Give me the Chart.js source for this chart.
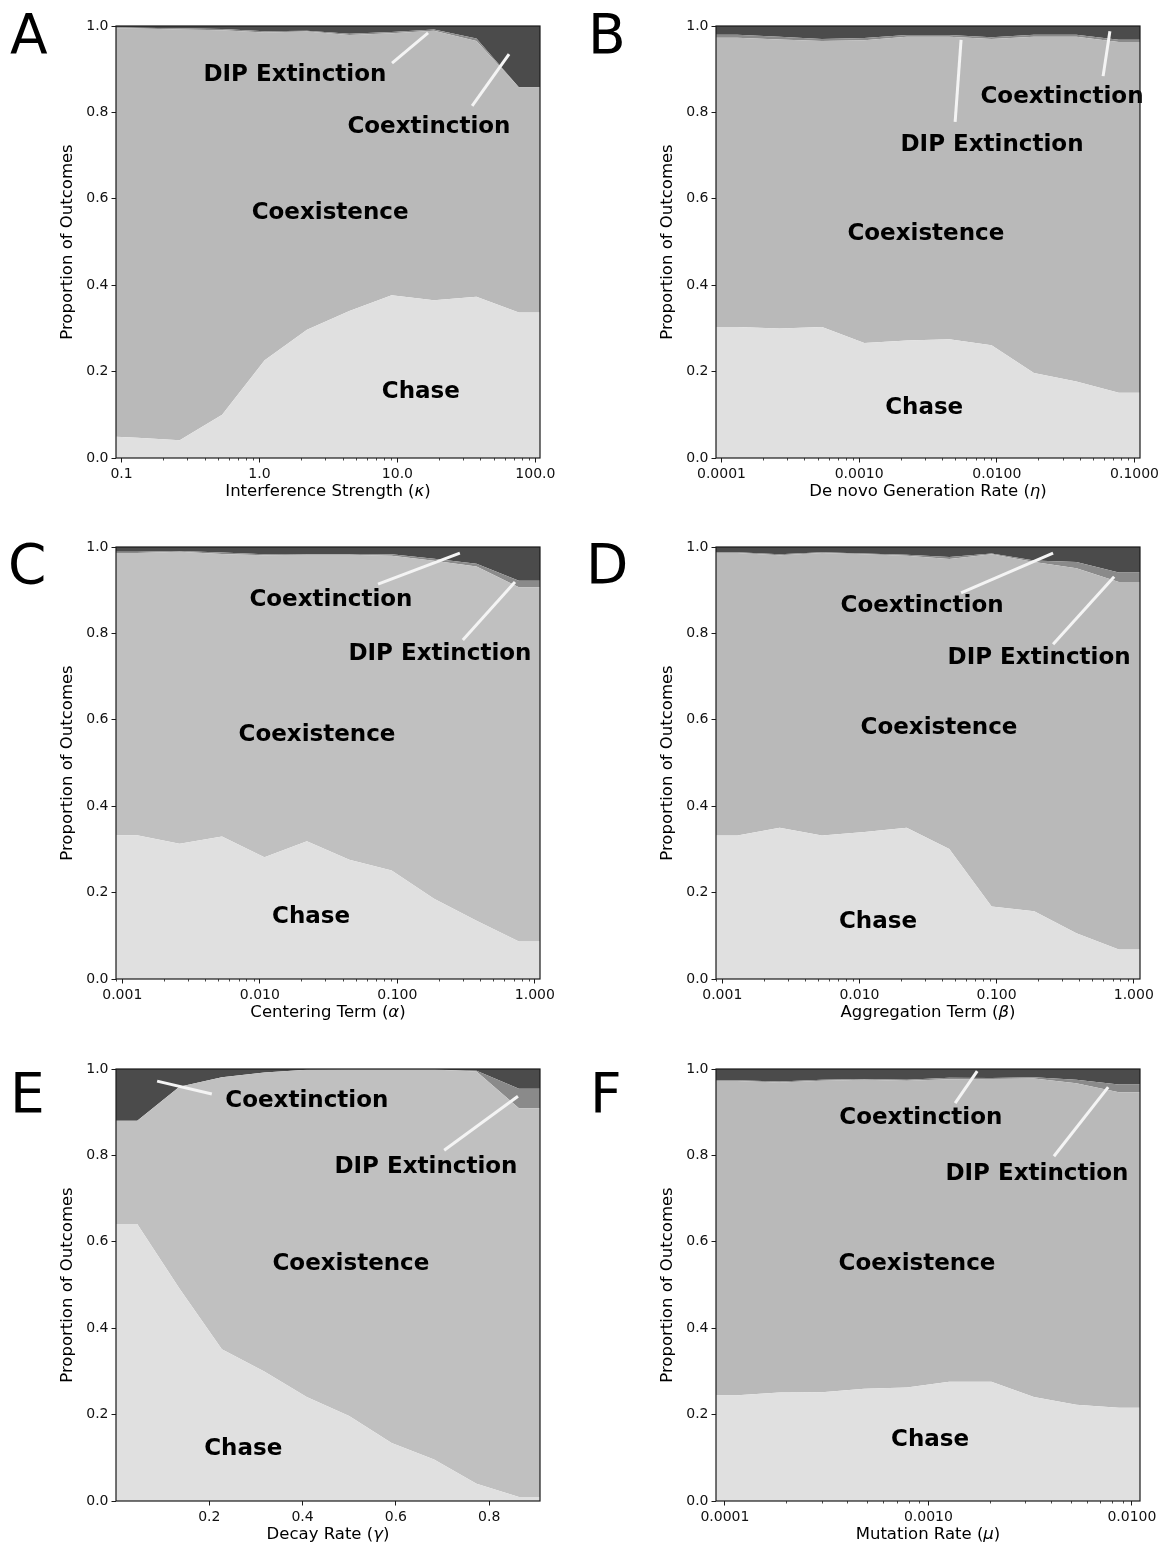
<!DOCTYPE html>
<html>
<head>
<meta charset="utf-8">
<script src="https://cdn.jsdelivr.net/npm/chart.js@4.4.1/dist/chart.umd.min.js"></script>
<style>
  html, body { margin: 0; padding: 0; background: #fff; }
  #fig { position: relative; width: 1166px; height: 1549px; overflow: hidden; }
  #fig canvas { position: absolute; }
</style>
</head>
<body>
<div id="fig"></div>
<script>
// ---- data (proportions of outcomes per parameter value) ----
const seriesNames = ['Chase', 'Coexistence', 'DIP Extinction', 'Coextinction'];

// A: interference strength (kappa)
const xA = [0.0912, 0.130, 0.264, 0.536, 1.09, 2.21, 4.48, 9.08, 18.4, 37.4, 75.9, 108];
const chaseA = [0.049, 0.047, 0.041, 0.100, 0.226, 0.297, 0.340, 0.377, 0.365, 0.373, 0.337, 0.337];
const coexistenceA = [0.946, 0.947, 0.951, 0.890, 0.759, 0.690, 0.639, 0.606, 0.624, 0.592, 0.521, 0.521];
const dipExtinctionA = [0.002, 0.002, 0.003, 0.003, 0.003, 0.002, 0.003, 0.003, 0.003, 0.006, 0, 0];
const coextinctionA = [0.003, 0.004, 0.005, 0.007, 0.012, 0.011, 0.018, 0.014, 0.008, 0.029, 0.142, 0.142];

// B: de novo generation rate (eta)
const xB = [0.0000912, 0.00013, 0.000264, 0.000537, 0.00109, 0.00222, 0.00451, 0.00916, 0.0186, 0.0378, 0.0769, 0.1096];
const chaseB = [0.303, 0.303, 0.300, 0.303, 0.266, 0.272, 0.275, 0.261, 0.197, 0.177, 0.151, 0.151];
const coexistenceB = [0.670, 0.670, 0.669, 0.662, 0.701, 0.703, 0.700, 0.709, 0.778, 0.798, 0.812, 0.812];
const dipExtinctionB = [0.007, 0.007, 0.006, 0.005, 0.005, 0.004, 0.004, 0.004, 0.005, 0.005, 0.005, 0.005];
const coextinctionB = [0.020, 0.020, 0.025, 0.030, 0.028, 0.021, 0.021, 0.026, 0.020, 0.020, 0.032, 0.032];

// C: centering term (alpha)
const xC = [0.0009, 0.00128, 0.00261, 0.00531, 0.0108, 0.022, 0.0448, 0.091, 0.185, 0.377, 0.766, 1.09];
const chaseC = [0.333, 0.333, 0.313, 0.330, 0.282, 0.319, 0.276, 0.251, 0.186, 0.135, 0.087, 0.087];
const coexistenceC = [0.653, 0.653, 0.676, 0.654, 0.699, 0.663, 0.706, 0.729, 0.782, 0.820, 0.820, 0.820];
const dipExtinctionC = [0.003, 0.003, 0.002, 0.003, 0.002, 0.002, 0.002, 0.003, 0.005, 0.006, 0.015, 0.015];
const coextinctionC = [0.011, 0.011, 0.009, 0.013, 0.017, 0.016, 0.016, 0.017, 0.027, 0.039, 0.078, 0.078];

// D: aggregation term (beta)
const xD = [0.0009, 0.00129, 0.00262, 0.00533, 0.0109, 0.0221, 0.0452, 0.092, 0.188, 0.382, 0.778, 1.11];
const chaseD = [0.332, 0.332, 0.350, 0.332, 0.340, 0.350, 0.301, 0.168, 0.157, 0.106, 0.068, 0.068];
const coexistenceD = [0.654, 0.654, 0.631, 0.654, 0.643, 0.630, 0.671, 0.815, 0.808, 0.845, 0.851, 0.851];
const dipExtinctionD = [0.002, 0.002, 0.002, 0.002, 0.002, 0.002, 0.005, 0.002, 0.004, 0.014, 0.022, 0.022];
const coextinctionD = [0.012, 0.012, 0.017, 0.012, 0.015, 0.018, 0.023, 0.015, 0.031, 0.035, 0.059, 0.059];

// E: decay rate (gamma)
const xE = [0, 0.0455, 0.136, 0.227, 0.318, 0.409, 0.5, 0.591, 0.682, 0.773, 0.864, 0.909];
const chaseE = [0.641, 0.641, 0.492, 0.351, 0.300, 0.241, 0.197, 0.134, 0.096, 0.040, 0.009, 0.009];
const coexistenceE = [0.239, 0.239, 0.467, 0.630, 0.692, 0.757, 0.802, 0.865, 0.903, 0.954, 0.900, 0.900];
const dipExtinctionE = [0, 0, 0, 0, 0, 0, 0, 0, 0, 0.002, 0.045, 0.045];
const coextinctionE = [0.120, 0.120, 0.041, 0.019, 0.008, 0.002, 0.001, 0.001, 0.001, 0.004, 0.046, 0.046];

// F: mutation rate (mu)
const xF = [0.0000904, 0.000115, 0.000185, 0.0003, 0.000484, 0.000783, 0.001265, 0.00204, 0.0033, 0.00533, 0.00863, 0.01096];
const chaseF = [0.245, 0.245, 0.251, 0.252, 0.260, 0.263, 0.276, 0.276, 0.241, 0.223, 0.216, 0.216];
const coexistenceF = [0.727, 0.727, 0.718, 0.721, 0.715, 0.710, 0.700, 0.701, 0.737, 0.744, 0.730, 0.730];
const dipExtinctionF = [0.002, 0.002, 0.002, 0.002, 0.002, 0.002, 0.004, 0.002, 0.003, 0.008, 0.018, 0.018];
const coextinctionF = [0.026, 0.026, 0.029, 0.025, 0.023, 0.025, 0.020, 0.021, 0.019, 0.025, 0.036, 0.036];

// tick values and labels
const yTicks = [0, 0.2, 0.4, 0.6, 0.8, 1.0];
const yTickLabels = ['0.0', '0.2', '0.4', '0.6', '0.8', '1.0'];
const xTicksA = [0.1, 1, 10, 100];
const xTickLabelsA = ['0.1', '1.0', '10.0', '100.0'];
const xTicksB = [0.0001, 0.001, 0.01, 0.1];
const xTickLabelsB = ['0.0001', '0.0010', '0.0100', '0.1000'];
const xTicksCD = [0.001, 0.01, 0.1, 1];
const xTickLabelsCD = ['0.001', '0.010', '0.100', '1.000'];
const xTicksE = [0.2, 0.4, 0.6, 0.8];
const xTickLabelsE = ['0.2', '0.4', '0.6', '0.8'];
const xTicksF = [0.0001, 0.001, 0.01];
const xTickLabelsF = ['0.0001', '0.0010', '0.0100'];

const yTitle = 'Proportion of Outcomes';

// ---- layout (page px) ----
const PLOT_W = 424, PLOT_H = 432, CANVAS_W = 583, CANVAS_H = 516;
const colChase = '#e0e0e0', colDip = '#8a8a8a', colCoext = '#4b4b4b';
const LINE_COL = '#f4f4f4';

// annotations in axes fractions: text centre [fx, fy], line [fx0, fy0, fx1, fy1]
const panels = [
  { letter: 'A', cx: 0, cy: 0, plotLeft: 116, plotTop: 26, letterX: 10, letterY: 53, xType: 'logarithmic',
    x: xA, vals: [chaseA, coexistenceA, dipExtinctionA, coextinctionA], coexCol: '#b9b9b9',
    ticks: xTicksA, tickLabels: xTickLabelsA, xTitle: ['Interference Strength (', 'κ', ')'],
    labels: [['DIP Extinction', 0.422, 0.887], ['Coextinction', 0.738, 0.766], ['Coexistence', 0.505, 0.567], ['Chase', 0.719, 0.153]],
    lines: [[0.651, 0.914, 0.736, 0.984], [0.840, 0.815, 0.927, 0.935]] },
  { letter: 'B', cx: 583, cy: 0, plotLeft: 716, plotTop: 26, letterX: 588, letterY: 53, xType: 'logarithmic',
    x: xB, vals: [chaseB, coexistenceB, dipExtinctionB, coextinctionB], coexCol: '#b9b9b9',
    ticks: xTicksB, tickLabels: xTickLabelsB, xTitle: ['De novo Generation Rate (', 'η', ')'],
    labels: [['Coextinction', 0.816, 0.836], ['DIP Extinction', 0.651, 0.725], ['Coexistence', 0.495, 0.519], ['Chase', 0.491, 0.116]],
    lines: [[0.913, 0.884, 0.929, 0.988], [0.564, 0.778, 0.578, 0.968]] },
  { letter: 'C', cx: 0, cy: 521, plotLeft: 116, plotTop: 547, letterX: 8, letterY: 583, xType: 'logarithmic',
    x: xC, vals: [chaseC, coexistenceC, dipExtinctionC, coextinctionC], coexCol: '#c0c0c0',
    ticks: xTicksCD, tickLabels: xTickLabelsCD, xTitle: ['Centering Term (', 'α', ')'],
    labels: [['Coextinction', 0.507, 0.877], ['DIP Extinction', 0.764, 0.752], ['Coexistence', 0.474, 0.565], ['Chase', 0.46, 0.144]],
    lines: [[0.618, 0.914, 0.811, 0.986], [0.818, 0.785, 0.941, 0.919]] },
  { letter: 'D', cx: 583, cy: 521, plotLeft: 716, plotTop: 547, letterX: 586, letterY: 583, xType: 'logarithmic',
    x: xD, vals: [chaseD, coexistenceD, dipExtinctionD, coextinctionD], coexCol: '#b9b9b9',
    ticks: xTicksCD, tickLabels: xTickLabelsCD, xTitle: ['Aggregation Term (', 'β', ')'],
    labels: [['Coextinction', 0.486, 0.863], ['DIP Extinction', 0.762, 0.743], ['Coexistence', 0.526, 0.581], ['Chase', 0.382, 0.132]],
    lines: [[0.578, 0.894, 0.795, 0.986], [0.795, 0.775, 0.939, 0.931]] },
  { letter: 'E', cx: 0, cy: 1043, plotLeft: 116, plotTop: 1069, letterX: 10, letterY: 1112, xType: 'linear',
    x: xE, vals: [chaseE, coexistenceE, dipExtinctionE, coextinctionE], coexCol: '#c0c0c0',
    ticks: xTicksE, tickLabels: xTickLabelsE, xTitle: ['Decay Rate (', 'γ', ')'],
    labels: [['Coextinction', 0.450, 0.926], ['DIP Extinction', 0.731, 0.773], ['Coexistence', 0.554, 0.548], ['Chase', 0.30, 0.121]],
    lines: [[0.226, 0.942, 0.097, 0.972], [0.774, 0.812, 0.948, 0.937]] },
  { letter: 'F', cx: 583, cy: 1043, plotLeft: 716, plotTop: 1069, letterX: 590, letterY: 1112, xType: 'logarithmic',
    x: xF, vals: [chaseF, coexistenceF, dipExtinctionF, coextinctionF], coexCol: '#b9b9b9',
    ticks: xTicksF, tickLabels: xTickLabelsF, xTitle: ['Mutation Rate (', 'μ', ')'],
    labels: [['Coextinction', 0.483, 0.886], ['DIP Extinction', 0.757, 0.757], ['Coexistence', 0.474, 0.548], ['Chase', 0.505, 0.142]],
    lines: [[0.564, 0.921, 0.616, 0.995], [0.797, 0.798, 0.925, 0.958]] }
];

const FONT = '"DejaVu Sans", sans-serif';

// draws spines, minor log ticks, titles, panel letter and the text annotations
function makeDecor(p) {
  return {
    id: 'decor' + p.letter,
    afterDraw(chart) {
      const ctx = chart.ctx;
      const a = chart.chartArea;
      const xs = chart.scales.x;
      const fx = f => a.left + f * (a.right - a.left);
      const fy = f => a.bottom - f * (a.bottom - a.top);
      ctx.save();

      // annotation lines
      ctx.strokeStyle = LINE_COL;
      ctx.lineWidth = 3;
      ctx.lineCap = 'butt';
      p.lines.forEach(l => {
        ctx.beginPath();
        ctx.moveTo(fx(l[0]), fy(l[1]));
        ctx.lineTo(fx(l[2]), fy(l[3]));
        ctx.stroke();
      });

      // outcome labels
      ctx.fillStyle = '#000';
      ctx.font = 'bold 23px ' + FONT;
      ctx.textAlign = 'center';
      ctx.textBaseline = 'middle';
      p.labels.forEach(t => ctx.fillText(t[0], fx(t[1]), fy(t[2])));

      // spines
      ctx.strokeStyle = '#1a1a1a';
      ctx.lineWidth = 1.2;
      ctx.strokeRect(a.left, a.top, a.right - a.left, a.bottom - a.top);

      // minor ticks on log axes
      if (p.xType === 'logarithmic') {
        ctx.lineWidth = 0.8;
        const lo = Math.floor(Math.log10(xs.min)), hi = Math.ceil(Math.log10(xs.max));
        for (let d = lo; d <= hi; d++) {
          for (let m = 2; m <= 9; m++) {
            const v = m * Math.pow(10, d);
            if (v <= xs.min || v >= xs.max) continue;
            const px = Math.round(xs.getPixelForValue(v)) + 0.5;
            ctx.beginPath();
            ctx.moveTo(px, a.bottom);
            ctx.lineTo(px, a.bottom + 2.5);
            ctx.stroke();
          }
        }
      }

      // y title
      ctx.font = '16.5px ' + FONT;
      ctx.save();
      ctx.translate(a.left - 48, (a.top + a.bottom) / 2);
      ctx.rotate(-Math.PI / 2);
      ctx.fillText(yTitle, 0, 0);
      ctx.restore();

      // x title with italic greek symbol
      const [pre, sym, post] = p.xTitle;
      const fNorm = '16.5px ' + FONT, fIt = 'italic 16.5px ' + FONT;
      ctx.font = fNorm;
      const w1 = ctx.measureText(pre).width, w3 = ctx.measureText(post).width;
      ctx.font = fIt;
      const w2 = ctx.measureText(sym).width;
      let sx = (a.left + a.right) / 2 - (w1 + w2 + w3) / 2;
      const ty = a.bottom + 34;
      ctx.textAlign = 'left';
      ctx.font = fNorm; ctx.fillText(pre, sx, ty); sx += w1;
      ctx.font = fIt; ctx.fillText(sym, sx, ty); sx += w2;
      ctx.font = fNorm; ctx.fillText(post, sx, ty);

      // panel letter
      ctx.font = '55px ' + FONT;
      ctx.textBaseline = 'alphabetic';
      ctx.fillText(p.letter, p.letterX - p.cx, p.letterY - p.cy);
      ctx.restore();
    }
  };
}

const fig = document.getElementById('fig');
panels.forEach(p => {
  const canvas = document.createElement('canvas');
  canvas.width = CANVAS_W;
  canvas.height = CANVAS_H;
  canvas.style.left = p.cx + 'px';
  canvas.style.top = p.cy + 'px';
  canvas.style.width = CANVAS_W + 'px';
  canvas.style.height = CANVAS_H + 'px';
  fig.appendChild(canvas);

  const yAxisW = p.plotLeft - p.cx;
  const padTop = p.plotTop - p.cy;
  const padRight = CANVAS_W - yAxisW - PLOT_W;
  const xAxisH = 40;
  const padBottom = CANVAS_H - padTop - PLOT_H - xAxisH;
  const colors = [colChase, p.coexCol, colDip, colCoext];

  const datasets = p.vals.map((v, i) => ({
    label: seriesNames[i],
    data: p.x.map((xv, j) => ({ x: xv, y: v[j] })),
    backgroundColor: colors[i],
    borderWidth: 0,
    pointRadius: 0,
    tension: 0,
    fill: i === 0 ? 'origin' : '-1'
  }));

  new Chart(canvas.getContext('2d'), {
    type: 'line',
    data: { datasets: datasets },
    options: {
      responsive: false,
      animation: false,
      devicePixelRatio: 1,
      layout: { padding: { top: padTop, right: padRight, bottom: padBottom, left: 0 } },
      plugins: { legend: { display: false }, tooltip: { enabled: false } },
      scales: {
        x: {
          type: p.xType,
          min: p.x[0],
          max: p.x[p.x.length - 1],
          border: { display: false },
          grid: { display: true, drawOnChartArea: false, tickLength: 4.5, tickColor: '#1a1a1a', tickWidth: 1 },
          ticks: {
            autoSkip: false, maxRotation: 0, padding: 3, color: '#111',
            font: { family: FONT, size: 14 },
            callback: (v, i) => p.tickLabels[i]
          },
          afterBuildTicks: s => { s.ticks = p.ticks.map(v => ({ value: v })); },
          afterFit: s => { s.height = xAxisH; }
        },
        y: {
          stacked: true,
          min: 0,
          max: 1,
          border: { display: false },
          grid: { display: true, drawOnChartArea: false, tickLength: 4.5, tickColor: '#1a1a1a', tickWidth: 1 },
          ticks: {
            autoSkip: false, padding: 3, color: '#111',
            font: { family: FONT, size: 14 },
            callback: (v, i) => yTickLabels[i]
          },
          afterBuildTicks: s => { s.ticks = yTicks.map(v => ({ value: v })); },
          afterFit: s => { s.width = yAxisW; }
        }
      }
    },
    plugins: [makeDecor(p)]
  });
});
</script>
</body>
</html>
